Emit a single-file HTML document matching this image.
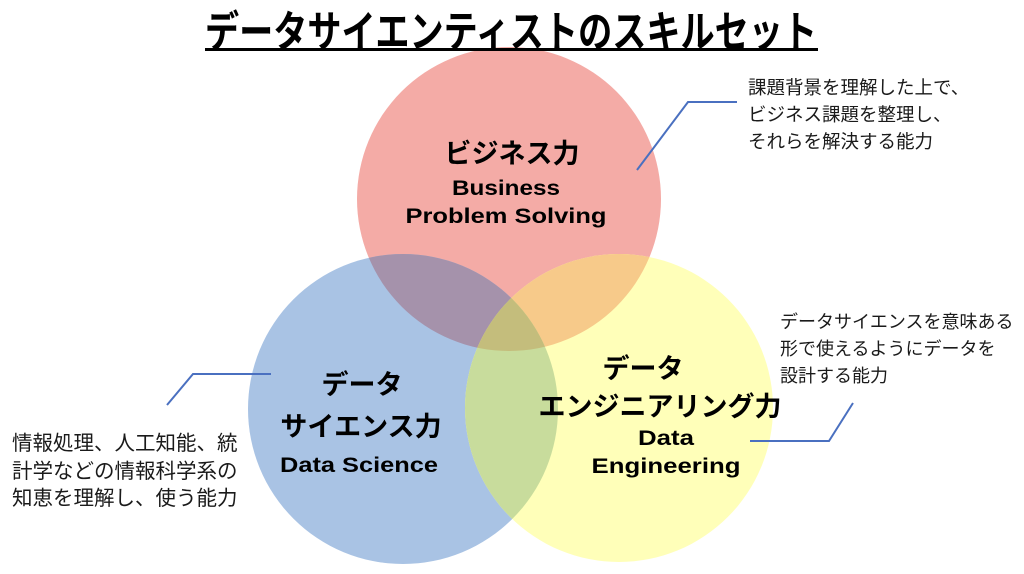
<!DOCTYPE html>
<html><head><meta charset="utf-8"><style>
html,body{margin:0;padding:0;background:#fff;}
svg{display:block}
</style></head><body>
<svg width="1024" height="574" viewBox="0 0 1024 574" xmlns="http://www.w3.org/2000/svg" font-family="Liberation Sans, Noto Sans CJK JP, sans-serif">
<defs>
<clipPath id="cr"><circle cx="509" cy="199" r="152"/></clipPath>
<clipPath id="cb"><circle cx="403" cy="409" r="155"/></clipPath>
<clipPath id="cy"><circle cx="619" cy="408" r="154"/></clipPath>
</defs>
<rect width="1024" height="574" fill="#fff"/>
<circle cx="509" cy="199" r="152" fill="#f4aba6"/>
<circle cx="403" cy="409" r="155" fill="#a9c3e4"/>
<circle cx="619" cy="408" r="154" fill="#ffffb9"/>
<g clip-path="url(#cr)"><circle cx="403" cy="409" r="155" fill="#a592ab"/><circle cx="619" cy="408" r="154" fill="#f7ca8a"/></g>
<g clip-path="url(#cb)"><circle cx="619" cy="408" r="154" fill="#c8dc9c"/></g>
<g clip-path="url(#cr)"><g clip-path="url(#cb)"><circle cx="619" cy="408" r="154" fill="#c4bd7c"/></g></g>

<text x="511" y="47" text-anchor="middle" font-size="43" font-weight="bold" textLength="612" lengthAdjust="spacingAndGlyphs" fill="#000">データサイエンティストのスキルセット</text>
<rect x="205" y="48" width="613" height="3" fill="#000"/>

<g font-weight="bold" fill="#000" text-anchor="middle">
<text x="512" y="163" font-size="27">ビジネス力</text>
<text x="506" y="195" font-size="21" textLength="108" lengthAdjust="spacingAndGlyphs">Business</text>
<text x="506" y="223" font-size="21" textLength="201" lengthAdjust="spacingAndGlyphs">Problem Solving</text>
<text x="362" y="394" font-size="27">データ</text>
<text x="361" y="436" font-size="27">サイエンス力</text>
<text x="359" y="472" font-size="21" textLength="158" lengthAdjust="spacingAndGlyphs">Data Science</text>
<text x="643" y="378" font-size="27">データ</text>
<text x="660" y="416" font-size="27">エンジニアリング力</text>
<text x="666" y="445" font-size="21" textLength="56" lengthAdjust="spacingAndGlyphs">Data</text>
<text x="666" y="473" font-size="21" textLength="149" lengthAdjust="spacingAndGlyphs">Engineering</text>
</g>

<g fill="#1a1a1a" font-size="18.5">
<text x="748" y="94">課題背景を理解した上で、</text>
<text x="748" y="121">ビジネス課題を整理し、</text>
<text x="748" y="148">それらを解決する能力</text>
</g>
<g fill="#1a1a1a" font-size="18">
<text x="780" y="328">データサイエンスを意味ある</text>
<text x="780" y="355">形で使えるようにデータを</text>
<text x="780" y="382">設計する能力</text>
</g>
<g fill="#1a1a1a" font-size="20.5">
<text x="12" y="450">情報処理、人工知能、統</text>
<text x="12" y="478">計学などの情報科学系の</text>
<text x="12" y="505">知恵を理解し、使う能力</text>
</g>

<g stroke="#4a70c0" stroke-width="2" fill="none">
<polyline points="637,170 688,102 737,102"/>
<polyline points="167,405 193,374 271,374"/>
<polyline points="750,441 829,441 853,403"/>
</g>
</svg>
</body></html>
